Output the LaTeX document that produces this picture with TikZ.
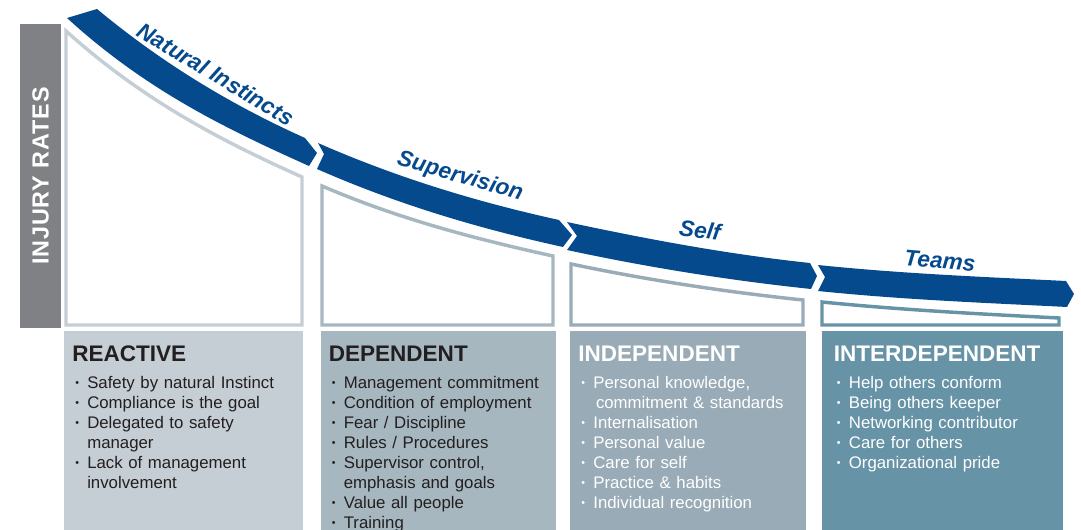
\documentclass[tikz,border=0pt]{standalone}
\usepackage{fontspec}
\setmainfont{Liberation Sans}
\usetikzlibrary{positioning}

\definecolor{RibbonBlue}{HTML}{064A8E}
\definecolor{BarGray}{HTML}{808184}
\definecolor{TextDark}{HTML}{231F20}
\definecolor{ReactiveGray}{HTML}{C5CED4}
\definecolor{DependentGray}{HTML}{A6B7C0}
\definecolor{IndependentGray}{HTML}{98ABB6}
\definecolor{InterBlue}{HTML}{6793A7}

\newcommand{\stagehead}[1]{{\fontsize{16.9}{20}\selectfont\bfseries #1}\par\vspace{5.25pt}}
\newcommand{\stageitem}[1]{\hangindent=11.25pt\hangafter=1\noindent\makebox[11.25pt][l]{\hspace{2.25pt}\raisebox{1.2pt}{\fontsize{8}{8}\selectfont •}}#1\par}

\begin{document}
\begin{tikzpicture}[x=0.75pt, y=-0.75pt,
	ribbonseg/.style={fill=RibbonBlue},
	ribbonlabel/.style={text=RibbonBlue, inner sep=0pt, font=\fontsize{17}{20}\selectfont\bfseries\itshape},
	panelline/.style={line width=2.6pt, line join=miter},
	stagebox/.style={rectangle, anchor=north west, inner xsep=6pt, inner ysep=0pt, text height=22.5pt, text depth=160pt, align=left, font=\fontsize{12.6}{15}\selectfont}
	]
	\useasboundingbox (0,0) rectangle (1081,530);
	%Axis bar
	\node[fill=BarGray, text=white, rotate=90, inner sep=0pt, minimum width=228pt, minimum height=30.75pt, font=\fontsize{17.5}{20}\selectfont\bfseries\addfontfeatures{LetterSpace=4}](InjuryRates) at (40.5,176) {INJURY RATES};
	%Ribbon
	\fill[ribbonseg] (67,18) -- (97,9) .. controls (166.3,66.5) and (235.7,106.8) .. (305,138) -- (317,153) -- (309,166) .. controls (228.3,129.7) and (147.3,91.4) .. (67,18) -- cycle;
	\fill[ribbonseg] (317,169) -- (324,154) -- (318,143) .. controls (398.3,178.3) and (478.7,202.3) .. (559,220) -- (572,235) -- (563,247) .. controls (481,229) and (399,205.1) .. (317,169) -- cycle;
	\fill[ribbonseg] (567,250) -- (577,236) -- (567,222) .. controls (648,239.4) and (729,254.4) .. (810,263) -- (817,276) -- (811,289) .. controls (729.7,280.4) and (648.3,267.5) .. (567,250) -- cycle;
	\fill[ribbonseg] (818,291) -- (825,277) -- (818,265) .. controls (900.7,273.6) and (983.3,276.9) .. (1066,281) -- (1074,294) -- (1067,307) .. controls (984,302.8) and (901,299.6) .. (818,291) -- cycle;
	%Ribbon labels
	\node[ribbonlabel, rotate=-31](NaturalLabel) at (216,74) {Natural Instincts};
	\node[ribbonlabel, rotate=-16](SupervisionLabel) at (460,177) {Supervision};
	\node[ribbonlabel, rotate=-8](SelfLabel) at (700,230) {Self};
	\node[ribbonlabel, rotate=-5](TeamsLabel) at (940,261) {Teams};
	% Draw the injury rate panels
	\draw[panelline, draw=ReactiveGray] (66,325) -- (66,31) .. controls (144.7,101.8) and (223.3,141.6) .. (302,177) -- (302,325) -- cycle;
	\draw[panelline, draw=DependentGray] (322,325) -- (322,186) .. controls (399,219.1) and (476,239.1) .. (553,256) -- (553,325) -- cycle;
	\draw[panelline, draw=IndependentGray] (571,325) -- (571,264) .. controls (648.3,280.2) and (725.7,291.9) .. (803,300) -- (803,325) -- cycle;
	\draw[panelline, draw=InterBlue] (822,325) -- (822,302) .. controls (901,309.9) and (980,314) .. (1059,318) -- (1059,325) -- cycle;
	%Stages
	\node[stagebox, fill=ReactiveGray, text=TextDark, text width=167.25pt](Reactive) at (64,331) {
		\stagehead{REACTIVE}
		\stageitem{Safety by natural Instinct}
		\stageitem{Compliance is the goal}
		\stageitem{Delegated to safety\newline manager}
		\stageitem{Lack of management\newline involvement}};
	\node[stagebox, fill=DependentGray, text=TextDark, text width=164.25pt, right=12.75pt of Reactive.north east, anchor=north west](Dependent) {
		\stagehead{DEPENDENT}
		\stageitem{Management commitment}
		\stageitem{Condition of employment}
		\stageitem{Fear / Discipline}
		\stageitem{Rules / Procedures}
		\stageitem{Supervisor control,\newline emphasis and goals}
		\stageitem{Value all people}
		\stageitem{Training}};
	\node[stagebox, fill=IndependentGray, text=white, text width=165pt, right=10.5pt of Dependent.north east, anchor=north west](Independent) {
		\stagehead{INDEPENDENT}
		\stageitem{Personal knowledge,\newline\hspace*{2pt}commitment \& standards}
		\stageitem{Internalisation}
		\stageitem{Personal value}
		\stageitem{Care for self}
		\stageitem{Practice \& habits}
		\stageitem{Individual recognition}};
	\node[stagebox, fill=InterBlue, text=white, inner xsep=9pt, text width=162.75pt, right=11.25pt of Independent.north east, anchor=north west](Interdependent) {
		\stagehead{INTERDEPENDENT}
		\stageitem{Help others conform}
		\stageitem{Being others keeper}
		\stageitem{Networking contributor}
		\stageitem{Care for others}
		\stageitem{Organizational pride}};
\end{tikzpicture}
\end{document}
